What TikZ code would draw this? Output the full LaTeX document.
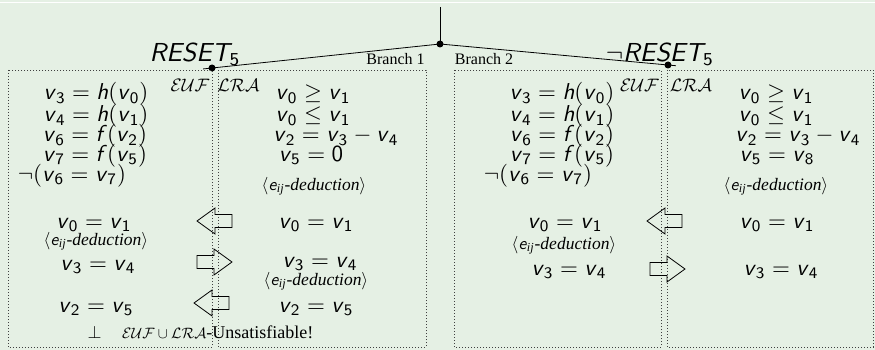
\documentclass[tikz,border=0pt]{standalone}
\usepackage{fix-cm}
\usepackage{fontspec}
\setmainfont{Liberation Serif}
\usetikzlibrary{calc}
\definecolor{bgc}{RGB}{229,240,228}
\newcommand\vv[1]{\textit{v}\textsubscript{\upshape #1}}
\newcommand\rl[1]{\hspace{.28em}$#1$\hspace{.28em}}
\newcommand\bn[1]{\hspace{.22em}$#1$\hspace{.22em}}
\newcommand\ded{$\langle$\textsf{\itshape e}\textsubscript{\itshape ij}\textit{-deduction}$\rangle$}
\newcommand\larrow[3]{% tip x, tail x, y
  \draw[barrow] ({#2},{#3-6.5}) -- ({#1+18},{#3-6.5}) -- ({#1+18},{#3-13}) -- ({#1},{#3})
    -- ({#1+18},{#3+13}) -- ({#1+18},{#3+6.5}) -- ({#2},{#3+6.5}) -- cycle;}
\newcommand\rarrow[3]{% tail x, tip x, y
  \draw[barrow] ({#1},{#3-6.5}) -- ({#2-18},{#3-6.5}) -- ({#2-18},{#3-13}) -- ({#2},{#3})
    -- ({#2-18},{#3+13}) -- ({#2-18},{#3+6.5}) -- ({#1},{#3+6.5}) -- cycle;}
\begin{document}
\begin{tikzpicture}[x=1pt,y=-1pt,
  frm/.style={font=\sffamily\fontsize{10}{10}\selectfont, scale=2.3, inner sep=0pt, anchor=base},
  rst/.style={font=\sffamily\itshape\fontsize{10}{10}\selectfont, scale=2.6, inner sep=0pt, anchor=base},
  dedn/.style={font=\fontsize{10}{10}\selectfont, scale=1.75, inner sep=0pt, anchor=base},
  brl/.style={font=\fontsize{16}{16}\selectfont, inner sep=0pt, anchor=base},
  thl/.style={font=\fontsize{18}{18}\selectfont, inner sep=0pt, anchor=base},
  dotbox/.style={draw=black!75, line width=0.8pt, dash pattern=on 0.8pt off 2.2pt},
  barrow/.style={draw=black, line width=0.8pt},
  conn/.style={draw=black, line width=0.8pt},
  knot/.style={circle, fill=black, inner sep=0pt, minimum size=7pt}]
\useasboundingbox (0,0) rectangle (875,350);
\fill[bgc] (0,0) rectangle (875,350);
\draw[white, line width=1pt] (0,3) -- (875,3);

% tree
\coordinate (top) at (440,7);
\node[knot] (root) at (440,44) {};
\node[knot] (ldot) at (212,68) {};
\node[knot] (rdot) at (668,65) {};
\coordinate (lend) at ($(ldot)!-9pt!(root)$);
\coordinate (rend) at ($(rdot)!-8pt!(root)$);
\draw[conn] (top) -- (root.center);
\draw[conn] (root.center) -- (ldot.center) -- (lend);
\draw[conn] (root.center) -- (rdot.center) -- (rend);

\node[rst] (lres) at (195,62) {RESET\textsubscript{\upshape 5}};
\node[rst] (rres) at (660,62) {$\neg$RESET\textsubscript{\upshape 5}};
\node[brl] (b1) at (395.5,65) {Branch 1};
\node[brl] (b2) at (484,65) {Branch 2};

% boxes
\draw[dotbox] (8,70) rectangle (212,347);
\draw[dotbox] (218,70) rectangle (426,347);
\draw[dotbox] (454,70) rectangle (661,347);
\draw[dotbox] (667,70) rectangle (873,347);

\node[thl] (leuf) at (190,92) {$\mathcal{EUF}$};
\node[thl] (llra) at (238.5,92) {$\mathcal{LRA}$};
\node[thl] (reuf) at (639.5,92) {$\mathcal{EUF}$};
\node[thl] (rlra) at (691,92) {$\mathcal{LRA}$};

% left branch EUF
\node[frm] (le1) at (96,100) {\vv{3}\rl{=}\textit{h}$($\vv{0}$)$};
\node[frm] (le2) at (96,122) {\vv{4}\rl{=}\textit{h}$($\vv{1}$)$};
\node[frm] (le3) at (95,142) {\vv{6}\rl{=}\textit{f}$($\vv{2}$)$};
\node[frm] (le4) at (95,161) {\vv{7}\rl{=}\textit{f}$($\vv{5}$)$};
\node[frm] (le5) at (72,181) {$\neg($\vv{6}\rl{=}\vv{7}$)$};
\node[frm] (le6) at (94,228) {\vv{0}\rl{=}\vv{1}};
\node[dedn] (le7) at (96,245) {\ded};
\node[frm] (le8) at (98,270) {\vv{3}\rl{=}\vv{4}};
\node[frm] (le9) at (96,312) {\vv{2}\rl{=}\vv{5}};
\node[thl] (bot) at (94.5,338) {$\perp$};
\node[thl, anchor=base west] (uns) at (122,338) {{\fontsize{15}{15}\selectfont$\mathcal{EUF}\cup\mathcal{LRA}$}-Unsatisfiable!};

% left branch LRA
\node[frm] (ll1) at (313,100) {\vv{0}\rl{\geq}\vv{1}};
\node[frm] (ll2) at (313,122) {\vv{0}\rl{\leq}\vv{1}};
\node[frm] (ll3) at (336,142) {\vv{2}\rl{=}\vv{3}\bn{-}\vv{4}};
\node[frm] (ll4) at (311,161) {\vv{5}\rl{=}0};
\node[dedn] (ll5) at (314,190) {\ded};
\node[frm] (ll6) at (316,228) {\vv{0}\rl{=}\vv{1}};
\node[frm] (ll7) at (320,267) {\vv{3}\rl{=}\vv{4}};
\node[dedn] (ll8) at (316,285) {\ded};
\node[frm] (ll9) at (316,312) {\vv{2}\rl{=}\vv{5}};

\larrow{197}{232}{221}
\rarrow{197}{232}{262}
\larrow{194}{229}{303}

% right branch EUF
\node[frm] (re1) at (562,100) {\vv{3}\rl{=}\textit{h}$($\vv{0}$)$};
\node[frm] (re2) at (562,122) {\vv{4}\rl{=}\textit{h}$($\vv{1}$)$};
\node[frm] (re3) at (562,142) {\vv{6}\rl{=}\textit{f}$($\vv{2}$)$};
\node[frm] (re4) at (562,161) {\vv{7}\rl{=}\textit{f}$($\vv{5}$)$};
\node[frm] (re5) at (538,181) {$\neg($\vv{6}\rl{=}\vv{7}$)$};
\node[frm] (re6) at (565,228) {\vv{0}\rl{=}\vv{1}};
\node[dedn] (re7) at (564,249) {\ded};
\node[frm] (re8) at (569,275) {\vv{3}\rl{=}\vv{4}};

% right branch LRA
\node[frm] (rl1) at (776,100) {\vv{0}\rl{\geq}\vv{1}};
\node[frm] (rl2) at (776,122) {\vv{0}\rl{\leq}\vv{1}};
\node[frm] (rl3) at (798,142) {\vv{2}\rl{=}\vv{3}\bn{-}\vv{4}};
\node[frm] (rl4) at (777,161) {\vv{5}\rl{=}\vv{8}};
\node[dedn] (rl5) at (776,190) {\ded};
\node[frm] (rl6) at (777,228) {\vv{0}\rl{=}\vv{1}};
\node[frm] (rl7) at (781,275) {\vv{3}\rl{=}\vv{4}};

\larrow{647}{682}{221}
\rarrow{650}{685}{269}
\end{tikzpicture}
\end{document}
